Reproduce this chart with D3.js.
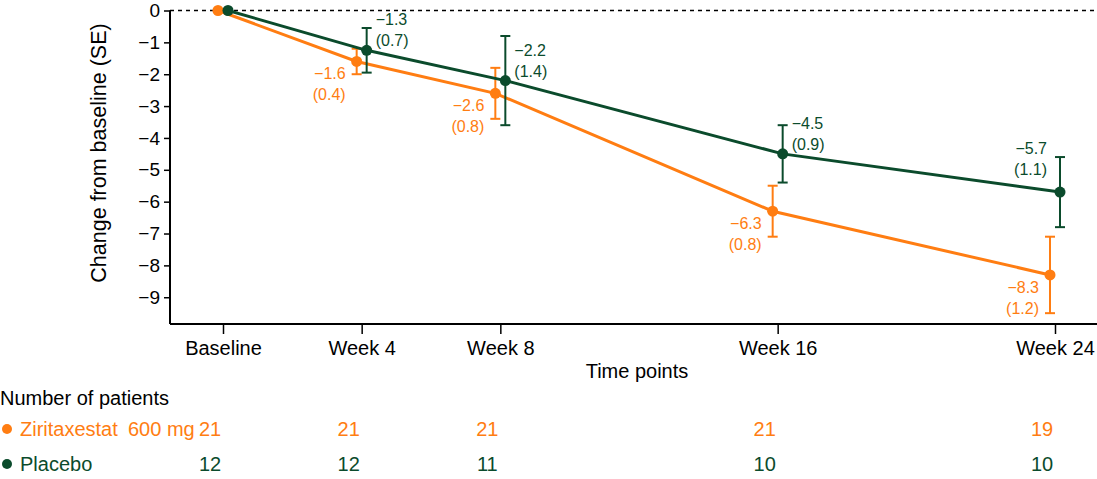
<!DOCTYPE html>
<html>
<head>
<meta charset="utf-8">
<script src="https://cdn.jsdelivr.net/npm/d3@7"></script>
<style>
  body { margin: 0; background: #fff; }
  svg { font-family: "Liberation Sans", Arial, sans-serif; }
</style>
</head>
<body>
<svg id="chart" width="1097" height="479"></svg>
<script>
// time points (weeks) and their labels
var weeks = [0, 4, 8, 16, 24];
var weekLabels = ['Baseline', 'Week 4', 'Week 8', 'Week 16', 'Week 24'];
var yTicks = [0, -1, -2, -3, -4, -5, -6, -7, -8, -9];

// change from baseline, mean and SE
var ziriMean = [0, -1.6, -2.6, -6.3, -8.3];
var ziriSE = [null, 0.4, 0.8, 0.8, 1.2];
var placeboMean = [0, -1.25, -2.2, -4.5, -5.7];
var placeboLabel = [null, '−1.3', '−2.2', '−4.5', '−5.7'];
var placeboSE = [null, 0.7, 1.4, 0.9, 1.1];

// number of patients
var ziriN = [21, 21, 21, 21, 19];
var placeboN = [12, 12, 11, 10, 10];

var orange = '#ff7d12';
var green = '#0b4b2c';

var svg = d3.select('#chart');

var x = d3.scaleLinear().domain([0, 24]).range([223, 1055]);
var y = d3.scaleLinear().domain([0, -9.84]).range([10.5, 324]);
var axisLeft = 170, axisRight = 1097;

// y axis
var yAxis = svg.append('g')
  .attr('transform', 'translate(' + axisLeft + ',0)')
  .call(d3.axisLeft(y).tickValues(yTicks).tickSize(6).tickPadding(4)
    .tickFormat(function(d) { return d === 0 ? '0' : '−' + Math.abs(d); }));
yAxis.select('.domain').attr('d', 'M0,' + y(0) + 'V' + y.range()[1]).attr('stroke-width', 2);
yAxis.selectAll('.tick line').attr('stroke-width', 1.5);
yAxis.selectAll('.tick text').attr('font-size', 19).attr('fill', '#000');

// x axis
var xAxis = svg.append('g')
  .attr('transform', 'translate(0,' + y.range()[1] + ')')
  .call(d3.axisBottom(x).tickValues(weeks).tickSize(10).tickPadding(7)
    .tickFormat(function(d, i) { return weekLabels[i]; }));
xAxis.select('.domain').attr('d', 'M' + axisLeft + ',0H' + axisRight).attr('stroke-width', 2);
xAxis.selectAll('.tick line').attr('stroke-width', 1.5);
xAxis.selectAll('.tick text').attr('font-size', 20).attr('fill', '#000');

// axis titles
svg.append('text')
  .attr('transform', 'translate(106,153) rotate(-90)')
  .attr('text-anchor', 'middle')
  .attr('font-size', 21.5)
  .text('Change from baseline (SE)');
svg.append('text')
  .attr('x', 637).attr('y', 378)
  .attr('text-anchor', 'middle')
  .attr('font-size', 20)
  .text('Time points');

// zero reference line
svg.append('line')
  .attr('x1', axisLeft).attr('x2', axisRight)
  .attr('y1', y(0)).attr('y2', y(0))
  .attr('stroke', '#000').attr('stroke-width', 1.3)
  .attr('stroke-dasharray', '4,4');

function drawSeries(means, ses, color, shift) {
  var g = svg.append('g');
  var pts = weeks.map(function(w, i) { return { x: x(w) + shift, m: means[i], se: ses[i], i: i }; });
  g.append('path')
    .attr('d', d3.line().x(function(d) { return d.x; }).y(function(d) { return y(d.m); })(pts))
    .attr('fill', 'none').attr('stroke', color).attr('stroke-width', 3);
  var eb = g.selectAll('.eb').data(pts.filter(function(d) { return d.se != null; }))
    .enter().append('g');
  eb.append('line')
    .attr('x1', function(d) { return d.x; }).attr('x2', function(d) { return d.x; })
    .attr('y1', function(d) { return y(d.m + d.se); }).attr('y2', function(d) { return y(d.m - d.se); });
  [1, -1].forEach(function(s) {
    eb.append('line')
      .attr('x1', function(d) { return d.x - 5; }).attr('x2', function(d) { return d.x + 5; })
      .attr('y1', function(d) { return y(d.m + s * d.se); }).attr('y2', function(d) { return y(d.m + s * d.se); });
  });
  eb.selectAll('line').attr('stroke', color).attr('stroke-width', 2);
  g.selectAll('circle').data(pts).enter().append('circle')
    .attr('cx', function(d) { return d.x; }).attr('cy', function(d) { return y(d.m); })
    .attr('r', 5.5).attr('fill', color);
  return pts;
}

var zPts = drawSeries(ziriMean, ziriSE, orange, -5);
var pPts = drawSeries(placeboMean, placeboSE, green, 5);

// value labels
function addLabel(d, text, se, color, anchor, dx, dy1) {
  var t = svg.append('text')
    .attr('font-size', 16).attr('fill', color).attr('text-anchor', anchor);
  t.append('tspan').attr('x', d.x + dx).attr('y', y(d.m) + dy1).text(text);
  t.append('tspan').attr('x', d.x + dx).attr('y', y(d.m) + dy1 + 21).text('(' + se.toFixed(1) + ')');
}
zPts.forEach(function(d) {
  if (d.se == null) return;
  addLabel(d, '−' + Math.abs(d.m).toFixed(1), d.se, orange, 'end', -11, 18);
});
pPts.forEach(function(d) {
  if (d.se == null) return;
  if (d.i === weeks.length - 1) addLabel(d, placeboLabel[d.i], d.se, green, 'end', -13, -38);
  else addLabel(d, placeboLabel[d.i], d.se, green, 'start', 9, -25);
});

// number of patients table
svg.append('text').attr('x', 0).attr('y', 405).attr('font-size', 20).text('Number of patients');
var rows = [
  { name: 'Ziritaxestat', dose: '600 mg', n: ziriN, color: orange, y: 436 },
  { name: 'Placebo', dose: null, n: placeboN, color: green, y: 471 }
];
rows.forEach(function(r) {
  svg.append('circle').attr('cx', 7).attr('cy', r.y - 7).attr('r', 5).attr('fill', r.color);
  var t = svg.append('text').attr('x', 20).attr('y', r.y).attr('font-size', 20).attr('fill', r.color);
  t.append('tspan').text(r.name);
  if (r.dose) t.append('tspan').attr('x', 128).text(r.dose);
  svg.selectAll(null).data(r.n).enter().append('text')
    .attr('x', function(d, i) { return x(weeks[i]) - 13; })
    .attr('y', r.y)
    .attr('text-anchor', 'middle')
    .attr('font-size', 20)
    .attr('fill', r.color)
    .text(function(d) { return d; });
});
</script>
</body>
</html>
